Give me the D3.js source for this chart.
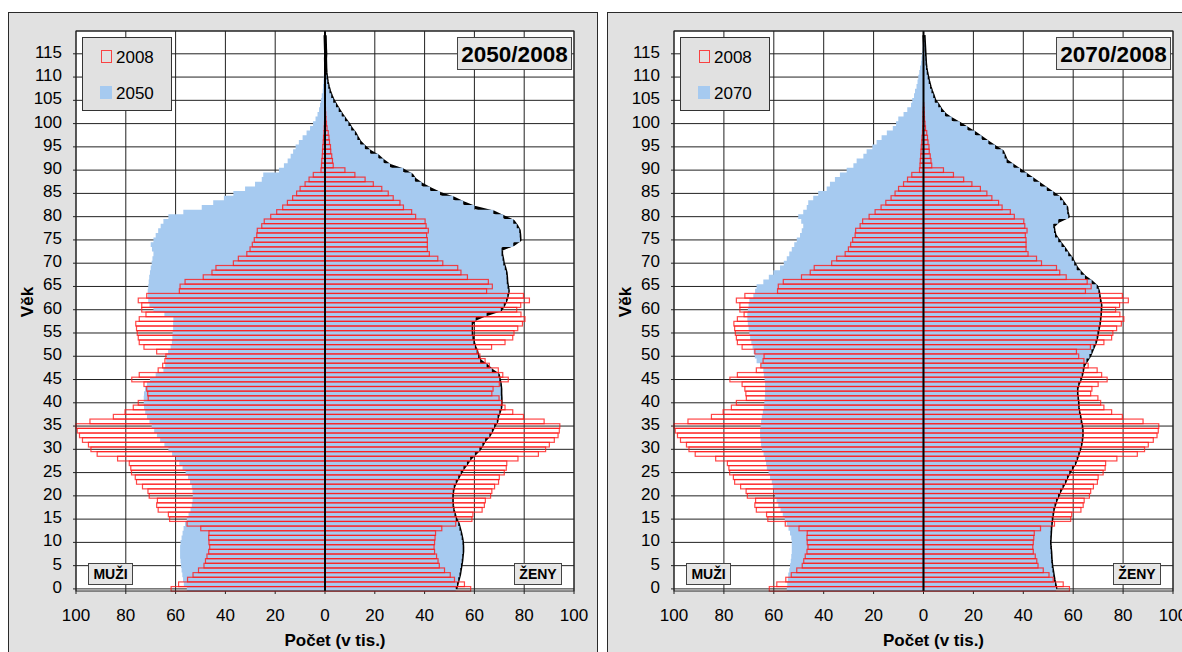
<!DOCTYPE html>
<html><head><meta charset="utf-8">
<script src="https://cdn.jsdelivr.net/npm/d3@7"></script>
<style>body{margin:0;background:#fff;} svg{display:block;font-family:"Liberation Sans",Arial,sans-serif;}</style>
</head><body><svg id="c" width="1182" height="652"></svg>
<script>
const ages = d3.range(0, 120);
const xTickValues = [-100,-80,-60,-40,-20,0,20,40,60,80,100];
const yTickValues = d3.range(0, 120, 5);

const men2008 = [61.8,58.8,55.2,53.0,50.8,48.6,48.0,47.4,46.7,46.3,
 46.6,46.7,46.6,49.9,55.4,62.4,62.9,67.0,67.6,67.3,
 70.6,71.1,73.3,75.7,76.2,77.7,78.0,78.6,83.3,91.5,
 94.0,95.0,97.4,98.6,99.5,100.0,94.4,85.0,80.3,77.0,
 75.0,71.0,71.2,71.6,72.7,77.6,74.6,67.0,65.2,64.3,
 63.9,67.6,72.7,74.6,75.0,75.4,75.7,76.0,74.6,71.9,
 73.6,73.6,75.0,71.6,58.5,58.2,56.2,48.9,45.4,43.8,
 36.8,34.8,31.4,30.1,29.2,28.4,27.4,27.2,25.4,24.4,
 21.8,19.4,17.0,15.1,13.0,11.4,10.0,8.0,6.4,4.7,
 1.6,1.4,1.3,1.1,1.0,0.9,0.7,0.6,0.4,0.3,
 0.2,0.15,0.1,0.05,0,0,0,0,0,0,
 0,0,0,0,0,0,0,0,0,0];
const women2008 = [58.5,56.0,52.0,50.3,48.0,45.9,45.4,44.8,44.0,43.8,
 44.0,44.2,44.4,46.9,52.5,59.0,59.4,63.1,64.0,64.4,
 66.5,67.0,68.1,69.7,70.0,72.0,72.8,73.0,77.5,85.7,
 88.6,90.1,92.1,93.6,94.1,94.3,88.0,79.7,75.4,72.3,
 71.0,69.9,67.0,67.5,70.0,73.6,71.4,69.6,66.0,64.3,
 62.2,61.3,66.9,72.3,75.4,75.9,77.4,79.3,80.3,78.7,
 77.0,78.6,82.1,79.7,64.9,67.2,65.6,57.2,54.6,53.3,
 47.3,45.3,41.9,41.1,41.1,41.1,40.8,41.5,40.6,40.2,
 36.4,34.8,31.5,30.1,27.4,25.4,22.8,19.4,16.1,12.0,
 8.0,3.3,3.0,2.7,2.3,2.2,1.8,1.6,1.3,0.8,
 0.6,0.4,0.3,0.2,0.1,0,0,0,0,0,
 0,0,0,0,0,0,0,0,0,0];
const men2050 = [55.5,56.7,57.0,57.3,57.6,57.8,58.0,58.2,58.2,58.2,
 58.0,57.6,57.2,56.8,56.2,55.5,54.8,54.0,53.5,53.2,
 53.1,53.2,53.5,54.2,55.0,56.0,57.2,58.5,59.9,61.4,
 62.9,64.5,66.2,67.5,68.6,69.6,70.5,71.5,72.2,72.7,
 72.8,72.8,72.7,72.3,71.5,70.3,68.0,64.9,64.2,63.8,
 63.6,63.0,62.0,61.5,61.3,61.2,61.0,61.0,60.9,64.5,
 68.9,70.5,71.0,71.2,71.2,71.0,70.8,70.6,70.3,70.0,
 69.6,69.3,68.9,69.5,70.0,68.9,68.0,67.0,66.0,64.9,
 62.9,56.9,49.5,44.9,40.6,36.8,32.1,28.1,25.4,24.8,
 18.5,16.5,15.0,13.8,12.8,11.8,10.5,9.0,7.4,6.0,
 4.8,3.8,3.0,2.4,2.0,1.6,1.3,0.9,0.8,0.6,
 0.5,0.4,0.3,0.25,0.2,0.15,0.1,0.08,0.05,0.03];
const women2050 = [52.5,53.0,53.5,54.0,54.3,54.6,54.9,55.1,55.3,55.3,
 55.2,54.9,54.5,54.0,53.5,52.5,52.0,51.5,51.2,51.1,
 51.1,51.3,51.7,52.5,53.5,54.5,55.6,57.0,58.3,60.2,
 62.0,63.2,64.3,66.0,67.0,67.9,69.0,69.3,70.0,70.6,
 70.7,70.7,70.6,70.6,70.4,70.0,69.6,67.0,64.9,62.3,
 61.5,60.9,60.2,59.6,59.2,58.9,58.9,58.9,60.5,64.9,
 70.6,71.8,72.7,73.2,73.6,73.3,73.0,72.9,72.7,72.2,
 71.6,71.3,70.9,70.9,75.6,78.3,78.2,78.0,77.0,75.6,
 71.6,67.6,60.0,55.5,51.5,46.2,42.2,38.8,36.1,34.8,
 31.4,26.1,23.5,21.4,18.1,16.0,14.1,13.0,12.0,10.5,
 9.4,8.0,6.7,5.5,4.4,3.3,2.5,1.8,1.3,0.9,
 0.6,0.4,0.3,0.25,0.2,0.3,0.2,0.15,0.1,0.05];
const men2070 = [54.8,54.6,54.4,54.2,53.8,53.5,53.2,53.0,52.8,52.8,
 52.8,53.0,53.5,54.1,54.8,55.6,56.4,57.3,58.2,58.9,
 59.5,60.0,60.4,60.8,61.5,62.1,62.8,63.1,63.5,64.1,
 64.8,65.1,65.3,65.5,65.5,65.3,65.1,64.8,64.4,64.0,
 63.8,63.6,63.5,63.5,63.5,63.7,64.0,64.2,65.2,66.9,
 67.6,68.1,68.5,69.0,69.5,69.8,70.1,70.4,70.6,70.6,
 70.4,70.1,69.8,68.2,67.5,66.9,64.2,62.0,60.2,57.5,
 56.0,54.8,53.8,52.8,51.8,50.8,49.5,48.8,48.2,49.0,
 50.2,48.2,46.8,46.2,44.2,42.2,38.8,37.5,35.5,33.5,
 30.8,28.1,26.8,24.1,22.8,20.5,18.8,16.8,14.7,12.3,
 11.0,10.1,8.0,6.5,5.0,4.5,3.8,3.4,2.8,2.4,
 2.1,1.7,1.4,1.0,0.8,0.6,0.4,0.3,0.2,0.1];
const women2070 = [53.1,52.7,52.3,52.0,51.7,51.4,51.2,51.1,51.0,50.8,
 50.7,50.8,50.9,51.0,51.2,51.4,51.7,52.0,52.5,53.1,
 53.9,54.7,55.7,56.7,57.5,58.4,59.5,60.7,61.4,62.0,
 62.6,63.1,63.4,63.6,63.6,63.4,63.0,62.7,62.3,62.0,
 61.9,61.7,61.5,61.5,62.0,62.8,63.4,63.8,64.1,65.3,
 66.5,67.3,68.1,68.9,69.4,69.7,70.1,70.5,70.7,70.9,
 71.0,71.1,70.7,70.4,70.1,69.4,67.4,64.7,63.0,61.4,
 60.4,59.4,58.0,56.7,55.3,54.0,52.7,52.3,52.0,54.0,
 58.0,57.6,57.4,56.0,54.7,52.0,49.4,46.7,44.0,41.4,
 38.7,36.0,33.3,32.5,31.7,28.7,26.0,23.3,20.6,17.6,
 14.6,11.3,8.6,7.0,5.9,4.5,3.9,3.2,2.6,2.1,
 1.7,1.3,1.0,0.8,0.7,0.6,0.5,0.4,0.3,0.2];

const panels = [
  {frameX: 8, frameW: 589, plotX0: 76, plotX1: 574, men: men2050, women: women2050,
   legendYear: "2050", title: "2050/2008"},
  {frameX: 607, frameW: 600, plotX0: 674, plotX1: 1173, men: men2070, women: women2070,
   legendYear: "2070", title: "2070/2008"}
];

const BLUE = "#a6caf0", GREY = "#e1e1e1", RED = "#ff1a1a";
const svg = d3.select("#c");
const plotY0 = 31, plotY1 = 591;
const ys = d3.scaleLinear().domain([-0.45, 119.9]).range([plotY1, plotY0]);

panels.forEach(p => {
  const g = svg.append("g");
  const xs = d3.scaleLinear().domain([-100, 100]).range([p.plotX0, p.plotX1]);
  g.append("rect").attr("x", p.frameX + 0.5).attr("y", 12.5).attr("width", p.frameW).attr("height", 700)
    .attr("fill", GREY).attr("stroke", "#2a2a2a").attr("stroke-width", 1);
  g.append("rect").attr("x", p.plotX0).attr("y", plotY0).attr("width", p.plotX1 - p.plotX0)
    .attr("height", plotY1 - plotY0).attr("fill", "#fff");
  g.selectAll(".gy").data(yTickValues.concat([120])).join("line")
    .attr("x1", p.plotX0).attr("x2", p.plotX1)
    .attr("y1", d => d === 120 ? plotY0 : ys(d)).attr("y2", d => d === 120 ? plotY0 : ys(d))
    .attr("stroke", "#222").attr("stroke-width", 1);
  g.selectAll(".gx").data(xTickValues).join("line")
    .attr("x1", d => xs(d)).attr("x2", d => xs(d)).attr("y1", plotY0).attr("y2", plotY1 + 3)
    .attr("stroke", "#222").attr("stroke-width", 1);
  g.selectAll(".ty").data(yTickValues).join("line")
    .attr("x1", p.plotX0 - 3).attr("x2", p.plotX0).attr("y1", d => ys(d)).attr("y2", d => ys(d))
    .attr("stroke", "#222");

  const womenLine = d3.line().x(a => xs(p.women[a])).y(a => ys(a));
  g.append("path").attr("d", womenLine(ages)).attr("fill", "none").attr("stroke", "#000")
    .attr("stroke-width", 3.2).attr("stroke-linejoin", "round");

  let d = "";
  ages.forEach((a, i) => {
    const yb = Math.min(ys(a - 0.5), plotY1), yt = Math.max(ys(a + 0.5), plotY0);
    const x = xs(-p.men[a]);
    d += (i === 0 ? "M" : "L") + x + "," + yb + "L" + x + "," + yt;
  });
  ages.slice().reverse().forEach(a => {
    const yb = Math.min(ys(a - 0.5), plotY1), yt = Math.max(ys(a + 0.5), plotY0);
    const x = xs(p.women[a]);
    d += "L" + x + "," + yt + "L" + x + "," + yb;
  });
  d += "Z";
  g.append("path").attr("d", d).attr("fill", BLUE);

  const bars = g.append("g").attr("fill", "none").attr("stroke", RED).attr("stroke-width", 1.2)
    .attr("stroke-opacity", 0.8);
  bars.selectAll(".bm").data(ages.filter(a => men2008[a] > 0)).join("rect")
    .attr("x", a => xs(-men2008[a])).attr("width", a => xs(0) - xs(-men2008[a]))
    .attr("y", a => ys(a + 0.5)).attr("height", a => ys(a - 0.5) - ys(a + 0.5));
  bars.selectAll(".bw").data(ages.filter(a => women2008[a] > 0)).join("rect")
    .attr("x", xs(0)).attr("width", a => xs(women2008[a]) - xs(0))
    .attr("y", a => ys(a + 0.5)).attr("height", a => ys(a - 0.5) - ys(a + 0.5));

  g.append("line").attr("x1", xs(0)).attr("x2", xs(0)).attr("y1", plotY0).attr("y2", plotY1)
    .attr("stroke", "#000").attr("stroke-width", 2);
  g.append("rect").attr("x", p.plotX0).attr("y", plotY0).attr("width", p.plotX1 - p.plotX0)
    .attr("height", plotY1 - plotY0).attr("fill", "none").attr("stroke", "#222");

  g.selectAll(".lx").data(xTickValues).join("text")
    .attr("x", d => xs(d)).attr("y", 620.5).attr("text-anchor", "middle")
    .attr("font-size", 17).text(d => Math.abs(d));
  g.selectAll(".ly").data(yTickValues).join("text")
    .attr("x", p.plotX0 - 14).attr("y", d => ys(d) + 4).attr("text-anchor", "end")
    .attr("font-size", 17).text(d => d);
  g.append("text").attr("x", xs(0) + 10).attr("y", 646).attr("text-anchor", "middle")
    .attr("font-size", 17).attr("font-weight", "bold").text("Počet (v tis.)");
  g.append("text").attr("transform", `translate(${p.plotX0 - 43},302) rotate(-90)`)
    .attr("text-anchor", "middle").attr("font-size", 17).attr("font-weight", "bold").text("Věk");

  const lg = g.append("g").attr("transform", `translate(${p.plotX0 + 6},37)`);
  lg.append("rect").attr("x", 0.5).attr("y", 0.5).attr("width", 89).attr("height", 73)
    .attr("fill", GREY).attr("stroke", "#333");
  lg.append("rect").attr("x", 19.5).attr("y", 13.5).attr("width", 10).attr("height", 12)
    .attr("fill", "none").attr("stroke", RED).attr("stroke-opacity", 0.8);
  lg.append("text").attr("x", 34).attr("y", 26).attr("font-size", 17).text("2008");
  lg.append("rect").attr("x", 18).attr("y", 49).attr("width", 12).attr("height", 13)
    .attr("fill", BLUE);
  lg.append("text").attr("x", 34).attr("y", 62).attr("font-size", 17).text(p.legendYear);

  const tb = g.append("g").attr("transform", `translate(${p.plotX1 - 117},37)`);
  tb.append("rect").attr("x", 0.5).attr("y", 0.5).attr("width", 114).attr("height", 32)
    .attr("fill", "#e6e6e6").attr("stroke", "#444");
  tb.append("text").attr("x", 57.5).attr("y", 24.5).attr("text-anchor", "middle")
    .attr("font-size", 22.5).attr("font-weight", "bold").text(p.title);

  [[p.plotX0 + 12, 44, "MUŽI"], [p.plotX1 - 60, 47, "ŽENY"]].forEach(([bx, bw, t]) => {
    g.append("rect").attr("x", bx + 0.5).attr("y", 563.5).attr("width", bw).attr("height", 21)
      .attr("fill", "#e6e6e6").attr("stroke", "#444");
    g.append("text").attr("x", bx + 0.5 + bw / 2).attr("y", 579).attr("text-anchor", "middle")
      .attr("font-size", 14).attr("font-weight", "bold").text(t);
  });
});
</script></body></html>
